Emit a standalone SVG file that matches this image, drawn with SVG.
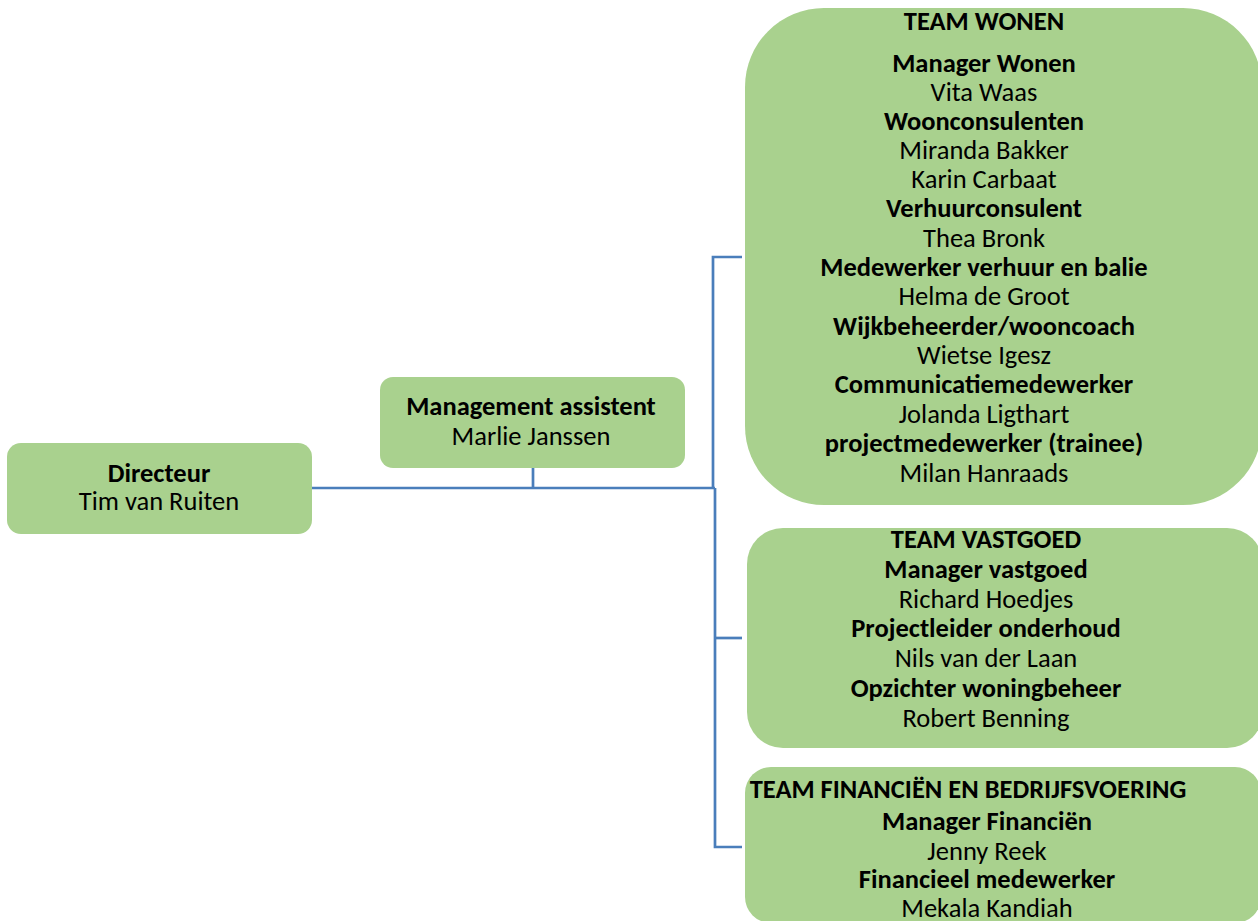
<svg xmlns="http://www.w3.org/2000/svg" width="1258" height="921" viewBox="0 0 1258 921">
<style>
.box{fill:#A9D18E;}
text{font-family:Carlito,Lato,"Liberation Sans",sans-serif;font-size:26.5px;fill:#000;text-anchor:middle;}
.b{font-weight:bold;}
.conn{fill:none;stroke:#4A7EBB;stroke-width:2.7;}
</style>
<rect width="1258" height="921" fill="#fff"/>
<g id="connectors">
<path class="conn" d="M312,488 H715"/>
<path class="conn" d="M533,468 V488"/>
<path class="conn" d="M742,257 H713 V488"/>
<path class="conn" d="M715,488 V847 H742"/>
<path class="conn" d="M715,638 H742"/>
</g>
<g id="directeur">
<rect class="box" x="7" y="443" width="305" height="91" rx="14"/>
<text x="159" y="482" class="b">Directeur</text>
<text x="159" y="510">Tim van Ruiten</text>
</g>
<g id="management-assistent">
<rect class="box" x="380" y="377" width="305" height="91" rx="13"/>
<text x="531" y="415" class="b">Management assistent</text>
<text x="531" y="445">Marlie Janssen</text>
</g>
<g id="team-wonen">
<rect class="box" x="745" y="8" width="517" height="497" rx="79"/>
<text x="984" y="30" class="b">TEAM WONEN</text>
<text x="984" y="72" class="b">Manager Wonen</text>
<text x="984" y="101">Vita Waas</text>
<text x="984" y="130" class="b">Woonconsulenten</text>
<text x="984" y="159">Miranda Bakker</text>
<text x="984" y="188">Karin Carbaat</text>
<text x="984" y="217" class="b">Verhuurconsulent</text>
<text x="984" y="247">Thea Bronk</text>
<text x="984" y="276" class="b">Medewerker verhuur en balie</text>
<text x="984" y="305">Helma de Groot</text>
<text x="984" y="335" class="b">Wijkbeheerder/wooncoach</text>
<text x="984" y="364">Wietse Igesz</text>
<text x="984" y="393" class="b">Communicatiemedewerker</text>
<text x="984" y="423">Jolanda Ligthart</text>
<text x="984" y="452" class="b">projectmedewerker (trainee)</text>
<text x="984" y="482">Milan Hanraads</text>
</g>
<g id="team-vastgoed">
<rect class="box" x="747" y="528" width="516" height="220" rx="36"/>
<text x="986" y="548" class="b">TEAM VASTGOED</text>
<text x="986" y="578" class="b">Manager vastgoed</text>
<text x="986" y="608">Richard Hoedjes</text>
<text x="986" y="637" class="b">Projectleider onderhoud</text>
<text x="986" y="667">Nils van der Laan</text>
<text x="986" y="697" class="b">Opzichter woningbeheer</text>
<text x="986" y="727">Robert Benning</text>
</g>
<g id="team-financien">
<rect class="box" x="745" y="767" width="516" height="156" rx="26"/>
<text x="968" y="798" class="b">TEAM FINANCIËN EN BEDRIJFSVOERING</text>
<text x="987" y="830" class="b">Manager Financiën</text>
<text x="987" y="860">Jenny Reek</text>
<text x="987" y="888" class="b">Financieel medewerker</text>
<text x="987" y="917">Mekala Kandiah</text>
</g>
</svg>
